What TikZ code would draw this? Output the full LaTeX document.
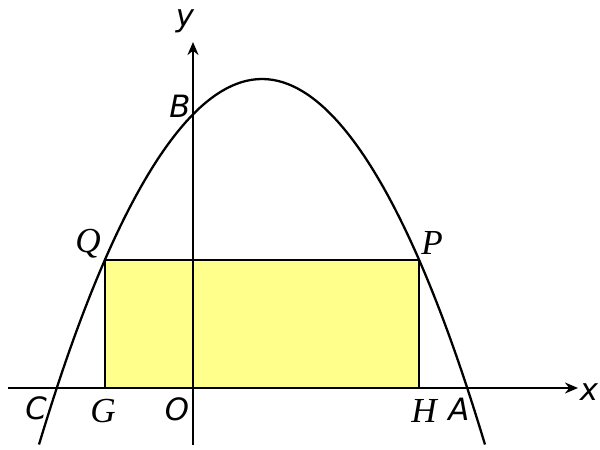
\documentclass[tikz,border=0pt]{standalone}
\usepackage{fontspec}
\setmainfont{DejaVu Sans}
\newfontfamily\serifit{Liberation Serif}[ItalicFont={* Italic}]
\usepackage{tikz}
\usetikzlibrary{arrows.meta, positioning}
\definecolor{rectfill}{RGB}{255,255,140}

\begin{document}
\begin{tikzpicture}[
    axis/.style={-{Stealth[length=2.6mm, width=2.2mm]}, line width=1.3pt},
    curve/.style={line width=1.3pt},
    sanslbl/.style={font=\fontsize{17.5}{20}\selectfont\itshape, inner sep=0pt},
    seriflbl/.style={font=\fontsize{20}{22}\selectfont\serifit\itshape, inner sep=0pt}
]
\useasboundingbox (-3.86,-1.24) rectangle (8.14,7.76);

% points of the rectangle
\coordinate (G) at (-1.76,0);
\coordinate (H) at (4.52,0);
\coordinate (P) at (4.52,2.56);
\coordinate (Q) at (-1.76,2.56);

\fill[rectfill] (G) rectangle (P);
\draw[curve] (G) -- (Q) -- (P) -- (H);

% axes
\coordinate (xstart) at (-3.7,0);
\coordinate (xend) at (7.7,0);
\coordinate (ystart) at (0,-1.14);
\coordinate (yend) at (0,6.92);
\draw[axis] (xstart) -- (xend);
\draw[axis] (ystart) -- (yend);

% parabola
\coordinate (pl) at (-3.08,-1.13);
\coordinate (top) at (1.38,6.18);
\coordinate (pr) at (5.84,-1.13);
\draw[curve] (pl) parabola bend (top) (pr);

% labels
\node[sanslbl] (ylbl) at (-0.16,7.34) {y};
\node[sanslbl] (xlbl) at (7.92,-0.08) {x};
\node[sanslbl] (Blbl) at (-0.26,5.64) {B};
\node[sanslbl] (Clbl) at (-3.14,-0.4) {C};
\node[sanslbl] (Olbl) at (-0.32,-0.42) {O};
\node[sanslbl] (Albl) at (5.32,-0.42) {A};
\node[seriflbl] (Glbl) at (-1.8,-0.46) {G};
\node[seriflbl] (Hlbl) at (4.62,-0.46) {H};
\node[seriflbl] (Qlbl) at (-2.1,2.88) {Q};
\node[seriflbl] (Plbl) at (4.78,2.9) {P};
\end{tikzpicture}
\end{document}
